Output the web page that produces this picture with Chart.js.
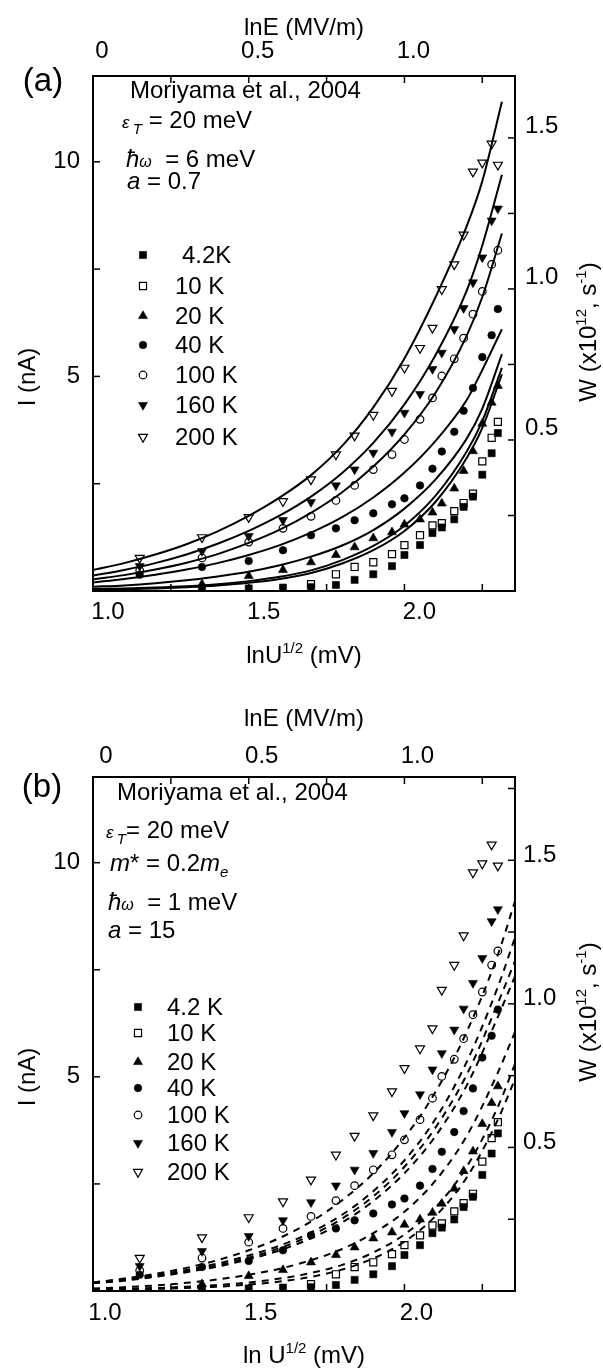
<!DOCTYPE html>
<html><head><meta charset="utf-8">
<script src="https://cdn.jsdelivr.net/npm/chart.js@4.4.0/dist/chart.umd.min.js"></script>
<style>
html,body{margin:0;padding:0;background:#fff;}
#wrap{position:relative;width:603px;height:1369px;background:#fff;}
canvas{position:absolute;left:0;}
</style></head><body>
<div id="wrap">
<canvas id="ca" width="603" height="684" style="top:0;width:603px;height:684px"></canvas>
<canvas id="cb" width="603" height="685" style="top:684px;width:603px;height:685px"></canvas>
</div>
<script>
// ---------- DATA ----------
// ln U^1/2 (mV) positions of the measured points
const xU = [1.15, 1.35, 1.50, 1.61, 1.70, 1.78, 1.84, 1.90, 1.96, 2.00, 2.05, 2.09, 2.12, 2.16, 2.19, 2.22, 2.25, 2.28, 2.30];
// measured current I (nA)
const I200 = [0.77, 1.25, 1.72, 2.09, 2.60, 3.18, 3.62, 4.10, 4.66, 5.20, 5.66, 6.13, 7.03, 7.61, 8.30, 9.77, 9.98, 10.42, 9.93];
const I160 = [0.58, 0.93, 1.28, 1.65, 2.07, 2.46, 2.83, 3.22, 3.71, 4.15, 4.59, 5.17, 5.55, 6.10, 6.59, 7.19, 7.77, 8.63, 8.91];
const I100 = [0.48, 0.77, 1.14, 1.46, 1.74, 2.11, 2.46, 2.83, 3.18, 3.53, 4.00, 4.50, 5.01, 5.41, 5.89, 6.45, 6.98, 7.61, 7.94];
const I40  = [0.38, 0.56, 0.70, 0.95, 1.30, 1.46, 1.65, 1.81, 2.02, 2.16, 2.46, 2.85, 3.25, 3.71, 4.20, 4.73, 5.45, 5.96, 6.57];
const I20  = [null, 0.16, 0.35, 0.49, 0.67, 0.84, 1.02, 1.23, 1.37, 1.55, 1.67, 1.83, 2.04, 2.39, 2.80, 3.26, 3.90, 4.39, 4.78];
const I10  = [null, null, null, null, 0.16, 0.39, 0.56, 0.67, 0.86, 1.07, 1.30, 1.53, 1.58, 1.86, 2.05, 2.27, 3.02, 3.57, 3.94];
const I4   = [null, 0.05, 0.06, 0.08, 0.09, 0.14, 0.26, 0.39, 0.58, 0.84, 1.07, 1.35, 1.48, 1.67, 1.96, 2.20, 2.71, 3.21, 3.68];

// model curves, panel (a) (solid)
const cxA  = [1.0, 1.1, 1.2, 1.3, 1.4, 1.5, 1.6, 1.7, 1.8, 1.9, 2.0, 2.1, 2.2, 2.25, 2.313];
const A200 = [0.49, 0.65, 0.85, 1.09, 1.39, 1.75, 2.18, 2.70, 3.38, 4.28, 5.42, 6.85, 8.50, 9.55, 11.40];
const A160 = [0.36, 0.49, 0.65, 0.85, 1.10, 1.40, 1.76, 2.20, 2.75, 3.45, 4.35, 5.50, 7.00, 8.05, 9.70];
const A100 = [0.27, 0.37, 0.50, 0.66, 0.86, 1.12, 1.43, 1.82, 2.30, 2.90, 3.65, 4.62, 5.95, 6.85, 8.33];
const A40  = [0.20, 0.28, 0.38, 0.50, 0.65, 0.84, 1.07, 1.36, 1.72, 2.18, 2.76, 3.50, 4.45, 5.15, 6.10];
const A20  = [0.10, 0.13, 0.18, 0.25, 0.34, 0.45, 0.60, 0.80, 1.06, 1.42, 1.92, 2.60, 3.55, 4.25, 5.52];
const A10  = [0.05, 0.06, 0.08, 0.11, 0.16, 0.23, 0.33, 0.48, 0.72, 1.05, 1.52, 2.22, 3.25, 3.96, 5.20];
const A4   = [0.03, 0.04, 0.06, 0.09, 0.13, 0.19, 0.28, 0.42, 0.64, 0.95, 1.40, 2.08, 3.10, 3.80, 5.05];

// model curves, panel (b) (dashed)
const cxB = [1.0, 1.1, 1.2, 1.3, 1.4, 1.5, 1.6, 1.7, 1.8, 1.9, 2.0, 2.1, 2.2, 2.3, 2.355];
const B1 = [0.20, 0.29, 0.40, 0.54, 0.72, 0.95, 1.24, 1.62, 2.12, 2.75, 3.58, 4.65, 6.05, 7.85, 9.10];
const B2 = [0.20, 0.27, 0.37, 0.49, 0.64, 0.83, 1.06, 1.37, 1.78, 2.33, 3.05, 4.02, 5.35, 7.10, 8.25];
const B3 = [0.19, 0.26, 0.35, 0.46, 0.60, 0.78, 1.00, 1.30, 1.69, 2.21, 2.90, 3.82, 5.05, 6.72, 7.70];
const B4 = [0.18, 0.24, 0.33, 0.44, 0.57, 0.74, 0.95, 1.23, 1.60, 2.10, 2.75, 3.62, 4.80, 6.40, 7.35];
const B5 = [0.06, 0.09, 0.13, 0.19, 0.27, 0.38, 0.52, 0.72, 0.98, 1.35, 1.85, 2.58, 3.62, 5.10, 6.05];
const B6 = [0.04, 0.05, 0.07, 0.10, 0.14, 0.20, 0.29, 0.42, 0.61, 0.90, 1.32, 1.95, 2.90, 4.30, 5.30];
const B7 = [0.03, 0.04, 0.05, 0.07, 0.10, 0.15, 0.22, 0.33, 0.50, 0.76, 1.15, 1.75, 2.65, 4.00, 4.95];

// legend labels
const tempLabelsA = ['4.2K', '10 K', '20 K', '40 K', '100 K', '160 K', '200 K'];
const tempLabelsB = ['4.2 K', '10 K', '20 K', '40 K', '100 K', '160 K', '200 K'];

// axis ticks
const xTickVals = [1.0, 1.25, 1.5, 1.75, 2.0, 2.25];
const xTickLabels = ['1.0', '', '1.5', '', '2.0', ''];
const eTickVals = [0, 0.25, 0.5, 0.75, 1.0, 1.25];
const eTickLabels = ['0', '', '0.5', '', '1.0', ''];
const iTickVals = [2.5, 5, 7.5, 10];
const iTickLabels = ['', '5', '', '10'];
const wTickValsA = [0.25, 0.5, 0.75, 1.0, 1.25, 1.5];
const wTickLabelsA = ['', '0.5', '', '1.0', '', '1.5'];
const wTickValsB = [0.25, 0.5, 0.75, 1.0, 1.25, 1.5, 1.75];
const wTickLabelsB = ['', '0.5', '', '1.0', '', '1.5', ''];

// ---------- RENDER ----------
const FONT = '"Liberation Sans", Arial, Helvetica, sans-serif';
const markerDefs = [
  {style: 'rect', fill: true, r: 5, rot: 0},
  {style: 'rect', fill: false, r: 5, rot: 0},
  {style: 'triangle', fill: true, r: 5.2, rot: 0},
  {style: 'circle', fill: true, r: 3.8, rot: 0},
  {style: 'circle', fill: false, r: 3.8, rot: 0},
  {style: 'triangle', fill: true, r: 5.2, rot: 180},
  {style: 'triangle', fill: false, r: 5.2, rot: 180}
];
const measured = [I4, I10, I20, I40, I100, I160, I200];

function pts(arr) { return xU.map((x, i) => ({x: x, y: arr[i]})).filter(p => p.y !== null); }
function curve(xs, ys) { return xs.map((x, i) => ({x: x, y: ys[i]})); }

function pointSets() {
  return measured.map((arr, k) => {
    const m = markerDefs[k];
    return {
      data: pts(arr), showLine: false, pointStyle: m.style, pointRadius: m.r, pointHoverRadius: m.r,
      pointRotation: m.rot, pointBackgroundColor: m.fill ? '#000' : 'rgba(0,0,0,0)',
      pointBorderColor: '#000', pointBorderWidth: m.fill ? 0.6 : 1.2, xAxisID: 'x', yAxisID: 'y'
    };
  });
}
function lineSet(xs, ys, dashed) {
  return {
    data: curve(xs, ys), showLine: true, pointRadius: 0, pointHoverRadius: 0, borderColor: '#000',
    borderWidth: 2, borderDash: dashed ? [7, 6] : [], cubicInterpolationMode: 'monotone', fill: false,
    xAxisID: 'x', yAxisID: 'y'
  };
}

function rich(ctx, x, y, parts, align) {
  let w = 0;
  parts.forEach(p => { ctx.font = (p.i ? 'italic ' : '') + p.s + 'px ' + FONT; p.w = ctx.measureText(p.t).width; w += p.w; });
  let cx = align === 'center' ? x - w / 2 : x;
  parts.forEach(p => { ctx.font = (p.i ? 'italic ' : '') + p.s + 'px ' + FONT; ctx.fillText(p.t, cx, y + (p.dy || 0)); cx += p.w; });
}

function drawMarker(ctx, m, x, y) {
  ctx.beginPath();
  const r = m.r;
  if (m.style === 'rect') {
    const s = Math.SQRT1_2 * r; ctx.rect(x - s, y - s, 2 * s, 2 * s);
  } else if (m.style === 'circle') {
    ctx.arc(x, y, r, 0, Math.PI * 2);
  } else {
    let rad = m.rot * Math.PI / 180;
    ctx.moveTo(x + Math.sin(rad) * r, y - Math.cos(rad) * r);
    rad += 2 * Math.PI / 3; ctx.lineTo(x + Math.sin(rad) * r, y - Math.cos(rad) * r);
    rad += 2 * Math.PI / 3; ctx.lineTo(x + Math.sin(rad) * r, y - Math.cos(rad) * r);
    ctx.closePath();
  }
  if (m.fill) { ctx.fillStyle = '#000'; ctx.fill(); ctx.lineWidth = 0.6; ctx.stroke(); }
  else { ctx.lineWidth = 1.2; ctx.stroke(); }
}

function decoPlugin(P) {
  return {
    id: 'deco',
    afterDraw(chart) {
      const ctx = chart.ctx, ca = chart.chartArea, L = 7;
      ctx.save();
      ctx.strokeStyle = '#000'; ctx.fillStyle = '#000'; ctx.lineWidth = 1.5;
      const tv = {x: xTickVals, x2: eTickVals, y: iTickVals, y2: P.wVals};
      Object.keys(tv).forEach(id => {
        const s = chart.scales[id];
        tv[id].forEach(v => {
          const p = s.getPixelForValue(v);
          if (id === 'x' || id === 'x2') {
            if (p <= ca.left + 2 || p >= ca.right - 2) return;
            ctx.beginPath();
            if (id === 'x') { ctx.moveTo(p, ca.bottom); ctx.lineTo(p, ca.bottom - L); }
            else { ctx.moveTo(p, ca.top); ctx.lineTo(p, ca.top + L); }
            ctx.stroke();
          } else {
            if (p <= ca.top + 2 || p >= ca.bottom - 2) return;
            ctx.beginPath();
            if (id === 'y') { ctx.moveTo(ca.left, p); ctx.lineTo(ca.left + L, p); }
            else { ctx.moveTo(ca.right, p); ctx.lineTo(ca.right - L, p); }
            ctx.stroke();
          }
        });
      });
      ctx.textBaseline = 'alphabetic';
      ctx.fillStyle = '#000';
      rich(ctx, 304, P.topTitleY, [{t: 'lnE (MV/m)', s: 24}], 'center');
      rich(ctx, 304, P.botTitleY, P.botTitle, 'center');
      rich(ctx, P.panelX, P.panelY, [{t: P.panel, s: 33}], 'center');
      ctx.save(); ctx.translate(P.leftTitle[0], P.leftTitle[1]); ctx.rotate(-Math.PI / 2);
      rich(ctx, 0, 8, [{t: 'I (nA)', s: 24}], 'center'); ctx.restore();
      ctx.save(); ctx.translate(P.rightTitle[0], P.rightTitle[1]); ctx.rotate(-Math.PI / 2);
      rich(ctx, 0, 8, [{t: 'W (x10', s: 24}, {t: '12', s: 15, dy: -10}, {t: ', s', s: 24}, {t: '-1', s: 15, dy: -10}, {t: ')', s: 24}], 'center');
      ctx.restore();
      P.notes.forEach(n => rich(ctx, n.x, n.y, n.parts, 'left'));
      P.legendRows.forEach((yy, k) => {
        ctx.strokeStyle = '#000';
        drawMarker(ctx, markerDefs[k], P.legendMarkX, yy);
        ctx.fillStyle = '#000';
        rich(ctx, P.legendTextX + (P.legendTextShift[k] || 0), yy + 8, [{t: P.legendLabels[k], s: 24}], 'left');
      });
      ctx.restore();
    }
  };
}

function axisCfg(pos, min, max, vals, labels, opts) {
  return {
    type: 'linear', position: pos, min: min, max: max,
    grid: {display: false, drawTicks: false},
    border: {display: true, width: 2, color: '#000'},
    ticks: {
      color: '#000', font: {family: FONT, size: 24}, padding: opts.pad, labelOffset: opts.off || 0,
      autoSkip: false, maxRotation: 0, minRotation: 0, includeBounds: false,
      callback: (v, i) => labels[i]
    },
    afterBuildTicks: s => { s.ticks = vals.map(v => ({value: v})); },
    afterFit: s => { if (opts.w !== undefined) s.width = opts.w; if (opts.h !== undefined) s.height = opts.h; }
  };
}

function makeChart(id, H, G, datasets, P) {
  return new Chart(document.getElementById(id), {
    type: 'scatter',
    data: {datasets: datasets},
    options: {
      responsive: false, animation: false, devicePixelRatio: 1, events: [],
      layout: {padding: 0},
      plugins: {legend: {display: false}, tooltip: {enabled: false}},
      scales: {
        x: axisCfg('bottom', 1.0, 2.355, xTickVals, xTickLabels, {h: H - G.bottom, pad: G.xPad, off: G.xOff}),
        x2: axisCfg('top', 0, 1.355, eTickVals, eTickLabels, {h: G.top, pad: G.x2Pad, off: G.x2Off}),
        y: axisCfg('left', 0, 12, iTickVals, iTickLabels, {w: G.left, pad: 13}),
        y2: axisCfg('right', 0, G.wMax, P.wVals, P.wLabels, {w: 603 - G.right, pad: G.y2Pad, off: G.y2Off})
      }
    },
    plugins: [decoPlugin(P)]
  });
}

// Panel (a)
const dsA = pointSets().concat([
  lineSet(cxA, A200, false), lineSet(cxA, A160, false), lineSet(cxA, A100, false),
  lineSet(cxA, A40, false), lineSet(cxA, A20, false), lineSet(cxA, A10, false), lineSet(cxA, A4, false)
]);
makeChart('ca', 684,
  {top: 76, bottom: 591, left: 93, right: 515, wMax: 1.705, xPad: 7, xOff: 15, x2Pad: 10, x2Off: 9, y2Pad: 10, y2Off: -12},
  dsA,
  {
    wVals: wTickValsA, wLabels: wTickLabelsA,
    topTitleY: 35, botTitleY: 663, panel: '(a)', panelX: 43, panelY: 91,
    botTitle: [{t: 'lnU', s: 24}, {t: '1/2', s: 15, dy: -10}, {t: ' (mV)', s: 24}],
    leftTitle: [27, 377], rightTitle: [588, 332],
    notes: [
      {x: 130, y: 98, parts: [{t: 'Moriyama et al., 2004', s: 24}]},
      {x: 122, y: 128, parts: [{t: 'ε', s: 17, i: true}, {t: ' ', s: 12}, {t: 'T', s: 15, i: true, dy: 6}, {t: ' = 20 meV', s: 24}]},
      {x: 126, y: 167, parts: [{t: 'ħ', s: 24, i: true}, {t: 'ω', s: 16, i: true}, {t: '  = 6 meV', s: 24}]},
      {x: 127, y: 189, parts: [{t: 'a', s: 24, i: true}, {t: ' = 0.7', s: 24}]}
    ],
    legendRows: [255, 286, 316, 345, 375, 405, 437], legendMarkX: 143, legendTextX: 175,
    legendTextShift: [7, 0, 0, 0, 0, 0, 0], legendLabels: tempLabelsA
  });

// Panel (b)
const dsB = pointSets().concat([
  lineSet(cxB, B1, true), lineSet(cxB, B2, true), lineSet(cxB, B3, true), lineSet(cxB, B4, true),
  lineSet(cxB, B5, true), lineSet(cxB, B6, true), lineSet(cxB, B7, true)
]);
makeChart('cb', 685,
  {top: 93, bottom: 607, left: 93, right: 515, wMax: 1.79, xPad: 8, xOff: 12, x2Pad: 6, x2Off: 13, y2Pad: 8, y2Off: -5},
  dsB,
  {
    wVals: wTickValsB, wLabels: wTickLabelsB,
    topTitleY: 42, botTitleY: 679, panel: '(b)', panelX: 42, panelY: 113,
    botTitle: [{t: 'ln U', s: 24}, {t: '1/2', s: 15, dy: -10}, {t: ' (mV)', s: 24}],
    leftTitle: [27, 393], rightTitle: [588, 328],
    notes: [
      {x: 117, y: 116, parts: [{t: 'Moriyama et al., 2004', s: 24}]},
      {x: 106, y: 154, parts: [{t: 'ε', s: 17, i: true}, {t: ' ', s: 12}, {t: 'T', s: 15, i: true, dy: 6}, {t: '= 20 meV', s: 24}]},
      {x: 110, y: 187, parts: [{t: 'm', s: 24, i: true}, {t: '* = 0.2', s: 24}, {t: 'm', s: 24, i: true}, {t: 'e', s: 15, i: true, dy: 6}]},
      {x: 108, y: 226, parts: [{t: 'ħ', s: 24, i: true}, {t: 'ω', s: 16, i: true}, {t: '  = 1 meV', s: 24}]},
      {x: 108, y: 254, parts: [{t: 'a', s: 24, i: true}, {t: ' = 15', s: 24}]}
    ],
    legendRows: [323, 349, 378, 404, 431, 459, 488], legendMarkX: 138, legendTextX: 167,
    legendTextShift: [0, 0, 0, 0, 0, 0, 0], legendLabels: tempLabelsB
  });
</script>
</body></html>
